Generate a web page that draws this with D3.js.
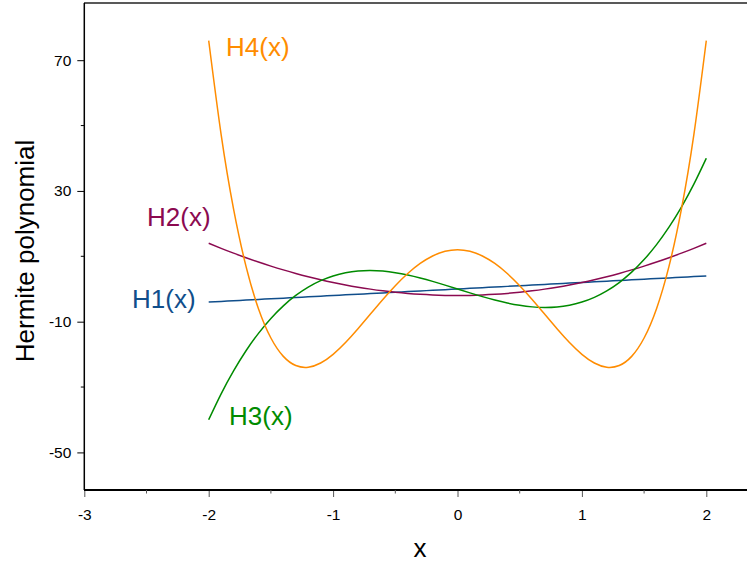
<!DOCTYPE html>
<html><head><meta charset="utf-8">
<script src="https://cdn.jsdelivr.net/npm/d3@7"></script>
<style>html,body{margin:0;padding:0;background:#fff;overflow:hidden}svg{display:block}</style>
</head><body>
<svg id="c" width="747" height="564"></svg>
<script>
const xs = [-2,-1.9,-1.8,-1.7,-1.6,-1.5,-1.4,-1.3,-1.2,-1.1,-1,-0.9,-0.8,-0.7,-0.6,-0.5,-0.4,-0.3,-0.2,-0.1,0,0.1,0.2,0.3,0.4,0.5,0.6,0.7,0.8,0.9,1,1.1,1.2,1.3,1.4,1.5,1.6,1.7,1.8,1.9,2];
const h1 = [-4,-3.8,-3.6,-3.4,-3.2,-3,-2.8,-2.6,-2.4,-2.2,-2,-1.8,-1.6,-1.4,-1.2,-1,-0.8,-0.6,-0.4,-0.2,0,0.2,0.4,0.6,0.8,1,1.2,1.4,1.6,1.8,2,2.2,2.4,2.6,2.8,3,3.2,3.4,3.6,3.8,4];
const h2 = [14,12.44,10.96,9.56,8.24,7,5.84,4.76,3.76,2.84,2,1.24,0.56,-0.04,-0.56,-1,-1.36,-1.64,-1.84,-1.96,-2,-1.96,-1.84,-1.64,-1.36,-1,-0.56,-0.04,0.56,1.24,2,2.84,3.76,4.76,5.84,7,8.24,9.56,10.96,12.44,14];
const h3 = [-40,-32.072,-25.056,-18.904,-13.568,-9,-5.152,-1.976,0.576,2.552,4,4.968,5.504,5.656,5.472,5,4.288,3.384,2.336,1.192,0,-1.192,-2.336,-3.384,-4.288,-5,-5.472,-5.656,-5.504,-4.968,-4,-2.552,-0.576,1.976,5.152,9,13.568,18.904,25.056,32.072,40];
const h4 = [76,47.2336,24.4416,6.9136,-6.0224,-15,-20.6144,-23.4224,-23.9424,-22.6544,-20,-16.3824,-12.1664,-7.6784,-3.2064,1,4.7296,7.8096,10.1056,11.5216,12,11.5216,10.1056,7.8096,4.7296,1,-3.2064,-7.6784,-12.1664,-16.3824,-20,-22.6544,-23.9424,-23.4224,-20.6144,-15,-6.0224,6.9136,24.4416,47.2336,76];
const seriesNames = ["H1(x)","H2(x)","H3(x)","H4(x)"];
const xTicks = [-3,-2,-1,0,1,2];
const xMinor = [-2.5,-1.5,-0.5,0.5,1.5];
const yTicks = [70,30,-10,-50];
const yMinor = [50,10,-30];

const svg = d3.select("#c");
const font = "'Liberation Sans', Arial, sans-serif";
const fmt = d => String(d);
const x = d3.scaleLinear().domain([-3, 2]).range([84.3, 706.3]);
const y = d3.scaleLinear().domain([-61.5, 87.5]).range([490, 3]);

const series = [
  {name: seriesNames[0], vals: h1, color: "#104E8B", lx: 132, ly: 308},
  {name: seriesNames[1], vals: h2, color: "#8B0A50", lx: 147, ly: 226},
  {name: seriesNames[2], vals: h3, color: "#008B00", lx: 229, ly: 425},
  {name: seriesNames[3], vals: h4, color: "#FF8C00", lx: 226, ly: 56}
];

const line = d3.line().x((d,i)=>x(xs[i])).y(d=>y(d)).curve(d3.curveNatural);
series.forEach(s=>{
  svg.append("path").attr("d", line(s.vals)).attr("fill","none")
    .attr("stroke", s.color).attr("stroke-width", 1.5);
  svg.append("text").attr("x", s.lx).attr("y", s.ly).text(s.name)
    .attr("fill", s.color).style("font-family", font).style("font-size","26px");
});

// frame top line
svg.append("line").attr("x1",84).attr("x2",747).attr("y1",3).attr("y2",3)
  .attr("stroke","#222").attr("stroke-width",1.3);

// Y axis
const gy = svg.append("g").attr("transform","translate(84.3,0)");
gy.call(d3.axisLeft(y).tickValues(yTicks).tickSize(7).tickPadding(6).tickFormat(fmt));
gy.select(".domain").remove();
gy.append("line").attr("x1",0).attr("x2",0).attr("y1",3).attr("y2",490).attr("stroke","#000").attr("stroke-width",1.5);
gy.selectAll(".tick line").attr("stroke","#000");
gy.selectAll(".tick text").style("font-family",font).style("font-size","15.5px").attr("fill","#000");
yMinor.forEach(v=>gy.append("line").attr("x1",-3.5).attr("x2",0).attr("y1",y(v)).attr("y2",y(v)).attr("stroke","#000"));

// X axis
const gx = svg.append("g").attr("transform","translate(0,490)");
gx.call(d3.axisBottom(x).tickValues(xTicks).tickSize(7).tickPadding(12).tickFormat(fmt));
gx.select(".domain").remove();
gx.append("line").attr("x1",84).attr("x2",747).attr("y1",0).attr("y2",0).attr("stroke","#000").attr("stroke-width",2);
gx.selectAll(".tick line").attr("stroke","#555");
gx.selectAll(".tick text").style("font-family",font).style("font-size","15.5px").attr("fill","#000");
xMinor.forEach(v=>gx.append("line").attr("x1",x(v)).attr("x2",x(v)).attr("y1",0).attr("y2",3.5).attr("stroke","#555"));

// axis titles
svg.append("text").attr("x",420).attr("y",557).attr("text-anchor","middle").text("x")
  .style("font-family",font).style("font-size","26px").attr("fill","#000");
svg.append("text").attr("transform","translate(34,251) rotate(-90)").attr("text-anchor","middle")
  .text("Hermite polynomial").style("font-family",font).style("font-size","26px").attr("fill","#000");
</script>
</body></html>
